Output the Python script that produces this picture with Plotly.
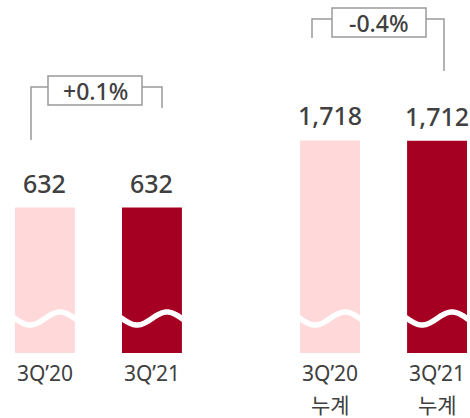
import math
import plotly.graph_objects as go

# ---- data ----
categories = ["3Q’20", "3Q’21", "3Q’20", "3Q’21"]
sublabels = ["", "", "누계", "누계"]
values = [632, 632, 1718, 1712]
value_labels = ["632", "632", "1,718", "1,712"]
changes = ["+0.1%", "-0.4%"]
colors = ["#FFD9DA", "#A50022", "#FFD9DA", "#A50022"]

# ---- layout helpers ----
GROUP_GAP = 2.664
xpos = [g * GROUP_GAP + i for g in range(2) for i in range(2)]
BAR_W = 0.56
Y_BASE = -1718          # broken-axis base
Y_TOP = 3987
X_RANGE = [-0.42, 3.972]
W, H, B = 470, 418, 65
PH = H - B
FONT = "Noto Sans, Noto Sans CJK KR"
TXT = "#404040"

def px_x(px):
    return X_RANGE[0] + px / W * (X_RANGE[1] - X_RANGE[0])

def px_y(py):
    return Y_TOP - py / PH * (Y_TOP - Y_BASE)

fig = go.Figure()
fig.add_trace(go.Bar(
    x=xpos, y=[v - Y_BASE for v in values], base=Y_BASE,
    width=BAR_W, marker=dict(color=colors, line=dict(width=0)),
    hoverinfo="skip", showlegend=False,
))

# wavy break
brk = px_y(318.5)
amp = 6.5 / PH * (Y_TOP - Y_BASE)
for xc in xpos:
    xs, ys = [], []
    for k in range(61):
        t = k / 60
        xs.append(xc - BAR_W / 2 - 0.02 + t * (BAR_W + 0.04))
        tt = (t * (BAR_W + 0.04) - 0.02) / BAR_W
        ys.append(brk - amp * math.sin(2 * math.pi * tt))
    fig.add_trace(go.Scatter(x=xs, y=ys, mode="lines",
                             line=dict(color="white", width=5.5, shape="spline"),
                             hoverinfo="skip", showlegend=False))

# value labels
for xc, v, lab in zip(xpos, values, value_labels):
    fig.add_annotation(x=xc, y=v, text=lab, showarrow=False, yanchor="bottom",
                       yshift=6, font=dict(family=FONT, size=25, color=TXT, weight=500))

# second line of category labels
for xc, s in zip(xpos, sublabels):
    if s:
        fig.add_annotation(x=xc, xref="x", y=-(405 - PH) / PH, yref="paper", text=s,
                           showarrow=False, yanchor="middle",
                           font=dict(family=FONT, size=21, color=TXT))

# brackets with change boxes
brackets = [
    dict(x1=31, x2=162, top=87, b1=140, b2=108, box=(48, 142, 76, 105)),
    dict(x1=312, x2=444, top=19, b1=38, b2=71, box=(332, 426, 8, 37)),
]
line_style = dict(color="#9a9a9a", width=1.5)
for br, txt in zip(brackets, changes):
    pts = [(br["x1"], br["b1"]), (br["x1"], br["top"]), (br["x2"], br["top"]), (br["x2"], br["b2"])]
    path = "M " + " L ".join(f"{px_x(a)},{px_y(b)}" for a, b in pts)
    fig.add_shape(type="path", path=path, line=line_style, xref="x", yref="y")
    x0, x1, y0, y1 = br["box"]
    fig.add_shape(type="rect", x0=px_x(x0), x1=px_x(x1), y0=px_y(y1), y1=px_y(y0),
                  line=line_style, fillcolor="white", xref="x", yref="y")
    fig.add_annotation(x=px_x((x0 + x1) / 2), y=px_y((y0 + y1) / 2), text=txt,
                       showarrow=False, font=dict(family=FONT, size=23, color=TXT, weight=500))

fig.update_layout(
    width=W, height=H, margin=dict(l=0, r=0, t=0, b=B),
    paper_bgcolor="white", plot_bgcolor="white",
    xaxis=dict(range=X_RANGE, tickmode="array", tickvals=xpos, ticktext=categories,
               showgrid=False, zeroline=False, showline=False, ticks="",
               ticklabelstandoff=6,
               tickfont=dict(family=FONT, size=21, color=TXT)),
    yaxis=dict(range=[Y_BASE, Y_TOP], visible=False, showgrid=False, zeroline=False),
)
fig.write_html("out.html", config={"displayModeBar": False},
               post_script="document.body.style.margin='0';")
